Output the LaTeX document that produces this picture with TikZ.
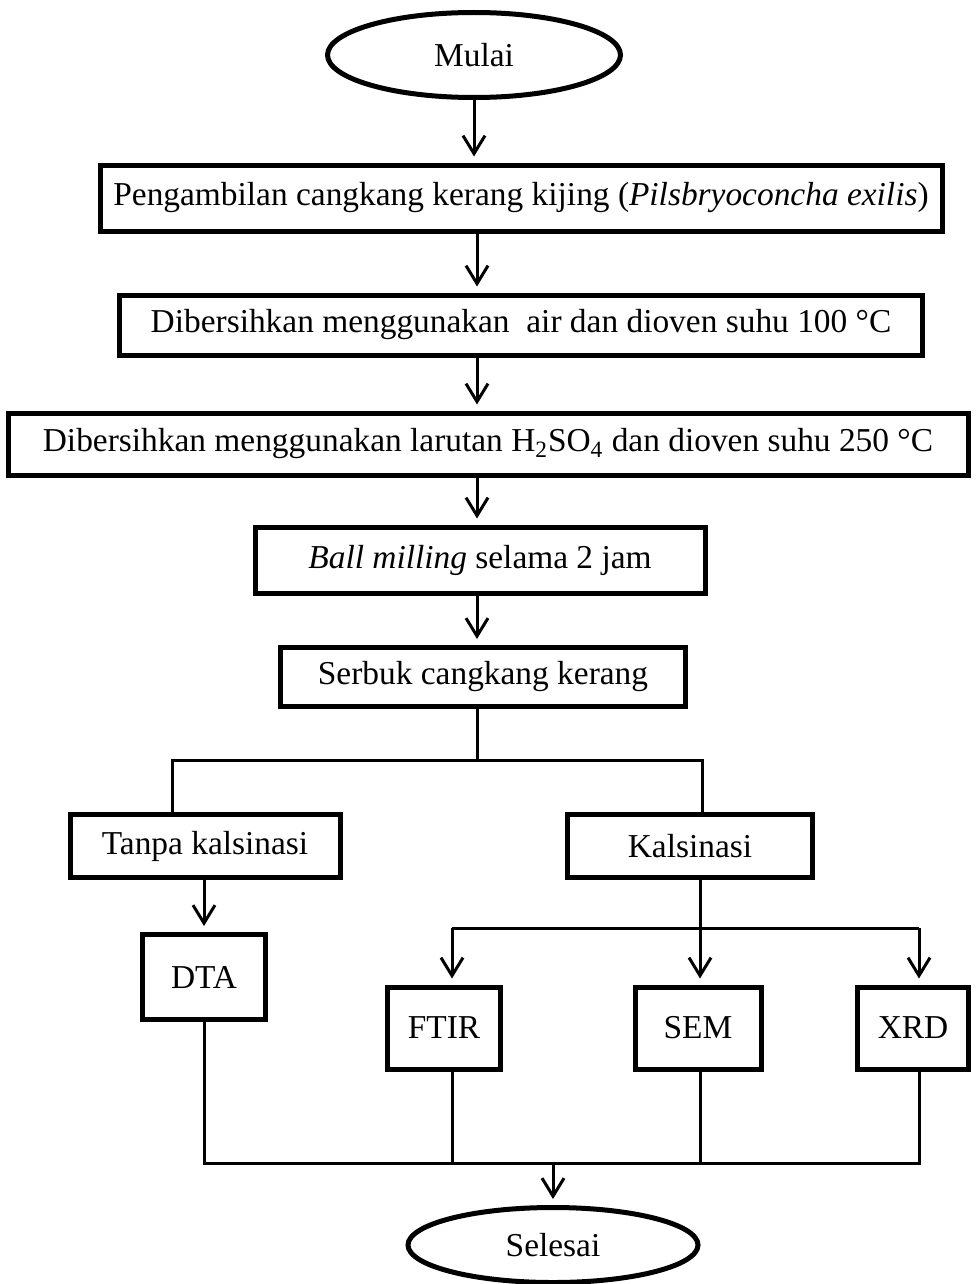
\documentclass[tikz,border=0pt]{standalone}
\usepackage{fontspec}
\setmainfont{Liberation Serif}
\usepackage{tikz}
\usetikzlibrary{shapes.geometric,arrows.meta}
\newcommand{\teks}{\fontsize{16.7}{20}\selectfont}
\tikzstyle{every node}=[inner sep=0pt,font=\teks]
\tikzstyle{box}=[draw,rectangle,line width=2.5pt]
\tikzstyle{term}=[draw,ellipse,line width=2.5pt]
\tikzstyle{conn}=[line width=1.5pt]
\tikzstyle{flow}=[line width=1.5pt,-{Straight Barb[length=9pt,width=11pt]},shorten >=3pt]

\begin{document}
\begin{tikzpicture}[x=0.5pt,y=-0.5pt]
\useasboundingbox (0,0) rectangle (977,1284);
\node[term,minimum width=146.5pt,minimum height=42.5pt] (mulai) at (474,55) {Mulai};
\node[box,minimum width=421pt,minimum height=33pt] (ambil) at (521,198) {Pengambilan cangkang kerang kijing (\textit{Pilsbryoconcha exilis})};
\node[box,minimum width=401.5pt,minimum height=30pt] (air) at (521,325) {Dibersihkan menggunakan \ air dan dioven suhu 100 °C};
\node[box,minimum width=480pt,minimum height=31pt] (asam) at (488,444) {Dibersihkan menggunakan larutan H\textsubscript{2}SO\textsubscript{4} dan dioven suhu 250 °C};
\node[box,minimum width=225pt,minimum height=33pt] (milling) at (480,560) {\textit{Ball milling} selama 2 jam};
\node[box,minimum width=202.5pt,minimum height=29.5pt] (serbuk) at (483,677) {Serbuk cangkang kerang};
\node[box,minimum width=135pt,minimum height=31.5pt] (tanpa) at (205,846) {Tanpa kalsinasi};
\node[box,minimum width=122.5pt,minimum height=31.5pt] (kal) at (690,846) {Kalsinasi};
\node[box,minimum width=61.5pt,minimum height=42.5pt] (dta) at (204,977) {DTA};
\node[box,minimum width=56.5pt,minimum height=41pt] (ftir) at (444,1028) {FTIR};
\node[box,minimum width=63pt,minimum height=41pt] (sem) at (698,1028) {SEM};
\node[box,minimum width=55.5pt,minimum height=41pt] (xrd) at (913,1028) {XRD};
\node[term,minimum width=145pt,minimum height=37.5pt] (selesai) at (553,1245) {Selesai};
\draw[flow] (mulai.south) -- (mulai.south |- ambil.north);
\coordinate (pusat) at (477,0);
\draw[flow] (pusat |- ambil.south) -- (pusat |- air.north);
\draw[flow] (pusat |- air.south) -- (pusat |- asam.north);
\draw[flow] (pusat |- asam.south) -- (pusat |- milling.north);
\draw[flow] (pusat |- milling.south) -- (pusat |- serbuk.north);
\coordinate (cabang) at (477,760);
\coordinate (kiri) at (172,760);
\coordinate (kanan) at (702,760);
\draw[conn] (serbuk.south -| cabang) -- (cabang);
\draw[conn] (kiri |- tanpa.north) -- (kiri) -- (kanan) -- (kanan |- kal.north);
\draw[flow] (tanpa.south -| dta) -- (dta.north);
\coordinate (bagi) at (700,928);
\coordinate (bagikiri) at (452,928);
\coordinate (bagikanan) at (919,928);
\draw[conn] (kal.south -| bagi) -- (bagi);
\draw[conn] (bagikiri) -- (bagikanan);
\draw[flow] (bagikiri) -- (bagikiri |- ftir.north);
\draw[flow] (bagi) -- (bagi |- sem.north);
\draw[flow] (bagikanan) -- (bagikanan |- xrd.north);
\coordinate (gabung) at (553,1163);
\coordinate (gkiri) at (204,1163);
\coordinate (gkanan) at (919,1163);
\draw[conn] (dta.south) -- (gkiri) -- (gkanan) -- (gkanan |- xrd.south);
\draw[conn] (ftir.south -| bagikiri) -- (bagikiri |- gabung);
\draw[conn] (sem.south -| bagi) -- (bagi |- gabung);
\draw[flow] (gabung) -- (selesai.north);
\end{tikzpicture}
\end{document}
